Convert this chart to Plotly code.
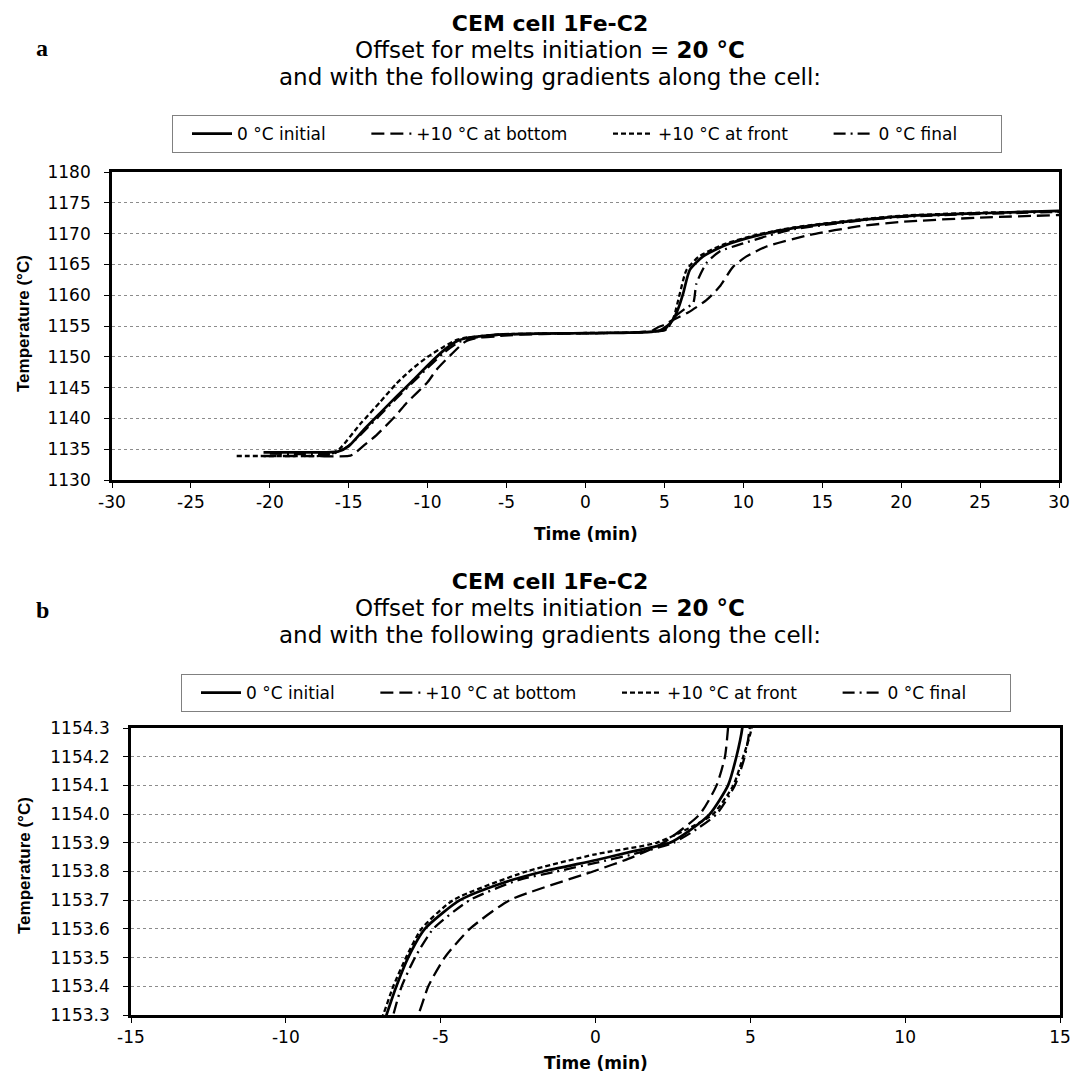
import plotly.graph_objects as go

# ---- data (time in min, temperature in °C) ----
series_names = ["0 °C initial", "+10 °C at bottom", "+10 °C at front", "0 °C final"]

t_initial = [-20.4, -18.0, -15.7, -15.0, -14.0, -13.0, -12.0, -11.0, -10.0, -9.0, -8.1, -7.5,
             -6.75, -6.43, -6.05, -5.51, -4.38, -3.0, -1.69, 0.03, 1.2, 2.40, 3.0, 3.69, 4.28,
             4.55, 4.74, 5.0, 5.3, 5.55, 5.9, 6.19, 6.61, 7.45, 8.93, 11.04, 13.16, 17.38, 20.0,
             25.0, 30.0]
T_initial = [1134.5, 1134.5, 1134.6, 1135.5, 1138.3, 1140.9, 1143.5, 1146.0, 1148.6, 1151.0,
             1152.6, 1153.05, 1153.3, 1153.4, 1153.5, 1153.6, 1153.7, 1153.76, 1153.8, 1153.84,
             1153.87, 1153.9, 1153.94, 1154.0, 1154.1, 1154.2, 1154.3, 1154.7, 1155.3, 1156.0,
             1158.0, 1160.3, 1164.1, 1166.3, 1168.2, 1169.8, 1170.9, 1172.2, 1172.8, 1173.3,
             1173.7]

t_bottom = [-20.4, -18.0, -15.0, -14.7, -14.0, -13.24, -12.0, -11.34, -10.0, -9.44, -8.5, -7.6,
            -6.8, -5.73, -5.40, -4.87, -4.06, -2.77, -0.08, 1.2, 2.19, 3.37, 3.91, 4.18, 4.28,
            4.6, 5.0, 5.55, 6.5, 7.66, 8.5, 9.35, 10.2, 11.47, 14.21, 17.38, 20.0, 25.0, 30.0]
T_bottom = [1133.9, 1133.9, 1133.9, 1134.2, 1135.7, 1137.3, 1140.5, 1142.5, 1145.9, 1147.9,
            1150.4, 1152.5, 1153.1, 1153.3, 1153.4, 1153.5, 1153.6, 1153.7, 1153.8, 1153.85,
            1153.9, 1154.0, 1154.1, 1154.2, 1154.3, 1154.8, 1155.2, 1156.0, 1157.2, 1159.2,
            1161.4, 1164.6, 1166.3, 1167.9, 1169.8, 1171.2, 1171.9, 1172.6, 1173.0]

t_front = [-22.1, -18.0, -16.3, -15.6, -14.3, -13.0, -12.0, -11.0, -10.0, -9.0, -8.2, -7.6,
           -6.86, -6.53, -6.12, -5.62, -4.60, -2.23, 0.0, 1.97, 3.0, 3.80, 4.45, 4.77, 5.04, 5.3,
           5.6, 5.98, 6.4, 7.2, 8.8, 11.0, 13.2, 17.4, 20.0, 25.0, 30.0]
T_front = [1133.9, 1133.9, 1134.0, 1135.0, 1139.0, 1142.7, 1145.6, 1148.0, 1150.0, 1151.6,
           1152.7, 1153.1, 1153.3, 1153.4, 1153.5, 1153.6, 1153.7, 1153.8, 1153.86, 1153.9,
           1153.95, 1154.0, 1154.1, 1154.2, 1154.3, 1155.0, 1156.5, 1160.3, 1164.1, 1166.3,
           1168.3, 1169.9, 1171.0, 1172.3, 1172.9, 1173.4, 1173.6]

t_final = [-20.0, -16.0, -15.4, -14.8, -14.0, -13.0, -12.0, -11.0, -10.0, -9.0, -8.0, -7.2,
           -6.53, -6.26, -5.83, -5.24, -4.06, -2.5, -1.26, 0.0, 1.2, 2.51, 3.3, 3.91, 4.50, 4.82,
           4.98, 5.3, 5.66, 6.3, 6.82, 7.03, 7.66, 8.5, 9.99, 11.5, 13.2, 17.4, 20.0, 25.0, 30.0]
T_final = [1134.3, 1134.3, 1134.9, 1136.0, 1138.0, 1140.6, 1143.2, 1145.7, 1148.2, 1150.6,
           1152.4, 1153.0, 1153.3, 1153.4, 1153.5, 1153.6, 1153.7, 1153.77, 1153.8, 1153.83,
           1153.86, 1153.9, 1153.95, 1154.0, 1154.1, 1154.2, 1154.3, 1155.2, 1156.5, 1157.8,
           1158.7, 1161.9, 1165.2, 1167.1, 1168.4, 1169.6, 1170.7, 1172.1, 1172.7, 1173.2,
           1173.5]

series_t = [t_initial, t_bottom, t_front, t_final]
series_T = [T_initial, T_bottom, T_front, T_final]

x_ticks_a = [-30, -25, -20, -15, -10, -5, 0, 5, 10, 15, 20, 25, 30]
x_labels_a = ["-30", "-25", "-20", "-15", "-10", "-5", "0", "5", "10", "15", "20", "25", "30"]
y_ticks_a = [1130, 1135, 1140, 1145, 1150, 1155, 1160, 1165, 1170, 1175, 1180]
y_labels_a = ["1130", "1135", "1140", "1145", "1150", "1155", "1160", "1165", "1170", "1175",
              "1180"]
x_ticks_b = [-15, -10, -5, 0, 5, 10, 15]
x_labels_b = ["-15", "-10", "-5", "0", "5", "10", "15"]
y_ticks_b = [1153.3, 1153.4, 1153.5, 1153.6, 1153.7, 1153.8, 1153.9, 1154.0, 1154.1, 1154.2,
             1154.3]
y_labels_b = ["1153.3", "1153.4", "1153.5", "1153.6", "1153.7", "1153.8", "1153.9", "1154.0",
              "1154.1", "1154.2", "1154.3"]

# ---- styles ----
dashes = ["solid", "13px,6px", "5px,3px", "12px,5px,2px,5px"]
widths = [2.7, 2.3, 2.3, 2.3]
FONT = "DejaVu Sans, Verdana, sans-serif"
FONT2 = "Liberation Sans, Arial, sans-serif"
W, H = 1072, 1076
pads = ["\u00a0" * 4, "\u00a0" * 4, "\u00a0" * 4, "\u00a0" * 7]  # spacing between legend entries

fig = go.Figure()
for xa, ya, lg in [("x", "y", "legend"), ("x2", "y2", "legend2")]:
    for name, pad, t, T, d, w in zip(series_names, pads, series_t, series_T, dashes, widths):
        fig.add_trace(go.Scatter(
            x=t, y=T, mode="lines", name=name + pad, xaxis=xa, yaxis=ya, legend=lg,
            line=dict(color="black", width=w, dash=d, shape="spline", smoothing=0.6),
            hovertemplate=name + ": %{x} min, %{y} °C<extra></extra>"))


def px(v):
    return v / W


def py(v):
    return 1 - v / H


axis_common = dict(showline=True, mirror=True, linecolor="black", linewidth=2.7,
                   ticks="outside", ticklen=5, tickwidth=1, tickcolor="black",
                   tickfont=dict(family=FONT, size=17, color="black"), zeroline=False,
                   automargin=False, tickmode="array")
grid = dict(showgrid=True, gridcolor="#8c8c8c", griddash="dot", gridwidth=1)

legend_common = dict(orientation="h", xanchor="left", yanchor="top",
                     bordercolor="#808080", borderwidth=1, bgcolor="white",
                     font=dict(family=FONT, size=17, color="black"),
                     itemwidth=40, indentation=14, traceorder="normal",
                     tracegroupgap=0)

fig.update_layout(
    width=W, height=H, margin=dict(l=0, r=0, t=0, b=0, autoexpand=False),
    paper_bgcolor="white", plot_bgcolor="white",
    font=dict(family=FONT, color="black"),
    xaxis=dict(domain=[px(112), px(1059)], range=[-30, 30], tickvals=x_ticks_a,
               ticktext=x_labels_a, showgrid=False, anchor="y", ticklabelstandoff=0,
               **axis_common),
    yaxis=dict(domain=[py(480), py(172)], range=[1130, 1180], tickvals=y_ticks_a,
               ticktext=y_labels_a, anchor="x", ticklabelstandoff=10, **grid,
               **axis_common),
    xaxis2=dict(domain=[px(131), px(1060)], range=[-15, 15], tickvals=x_ticks_b,
                ticktext=x_labels_b, showgrid=False, anchor="y2", ticklabelstandoff=0,
                **axis_common),
    yaxis2=dict(domain=[py(1015), py(728)], range=[1153.3, 1154.3], tickvals=y_ticks_b,
                ticktext=y_labels_b, anchor="x2", ticklabelstandoff=10, **grid,
                **axis_common),
    legend=dict(x=px(172), y=py(115), **legend_common),
    legend2=dict(x=px(181), y=py(674), **legend_common),
    showlegend=True,
)

ann = []

TITLE_TEXT = ("<span style='font-size:22px'><b>CEM cell 1Fe-C2</b></span><br>"
              "<span style='font-size:23px'>Offset for melts initiation = <b>20 °C</b></span><br>"
              "<span style='font-size:23px'>and with the following gradients along the cell:</span>")

for yc in [51, 608]:
    ann.append(dict(text=TITLE_TEXT, x=px(550), y=py(yc), xref="paper", yref="paper",
                    xanchor="center", yanchor="middle", showarrow=False, align="center",
                    font=dict(family=FONT, size=20.8, color="black")))

for lab, yy in [("a", 48), ("b", 610)]:
    ann.append(dict(text="<b>%s</b>" % lab, x=px(42), y=py(yy), xref="paper", yref="paper",
                    xanchor="center", yanchor="middle", showarrow=False,
                    font=dict(family="Liberation Serif, Times New Roman, serif", size=24,
                              color="black")))

for xx, yy in [(586, 534), (596, 1063)]:
    ann.append(dict(text="<b>Time (min)</b>", x=px(xx), y=py(yy),
                    xref="paper", yref="paper", xanchor="center", yanchor="middle",
                    showarrow=False, font=dict(family=FONT, size=17, color="black")))

for yy in [324, 866]:
    ann.append(dict(text="<b>Temperature (°C)</b>", x=px(24), y=py(yy), xref="paper",
                    yref="paper", xanchor="center", yanchor="middle", textangle=-90,
                    showarrow=False, font=dict(family=FONT2, size=17, color="black")))

fig.update_layout(annotations=ann)
fig.write_html("out.html", config={"displayModeBar": False},
               post_script="document.body.style.margin='0';")
